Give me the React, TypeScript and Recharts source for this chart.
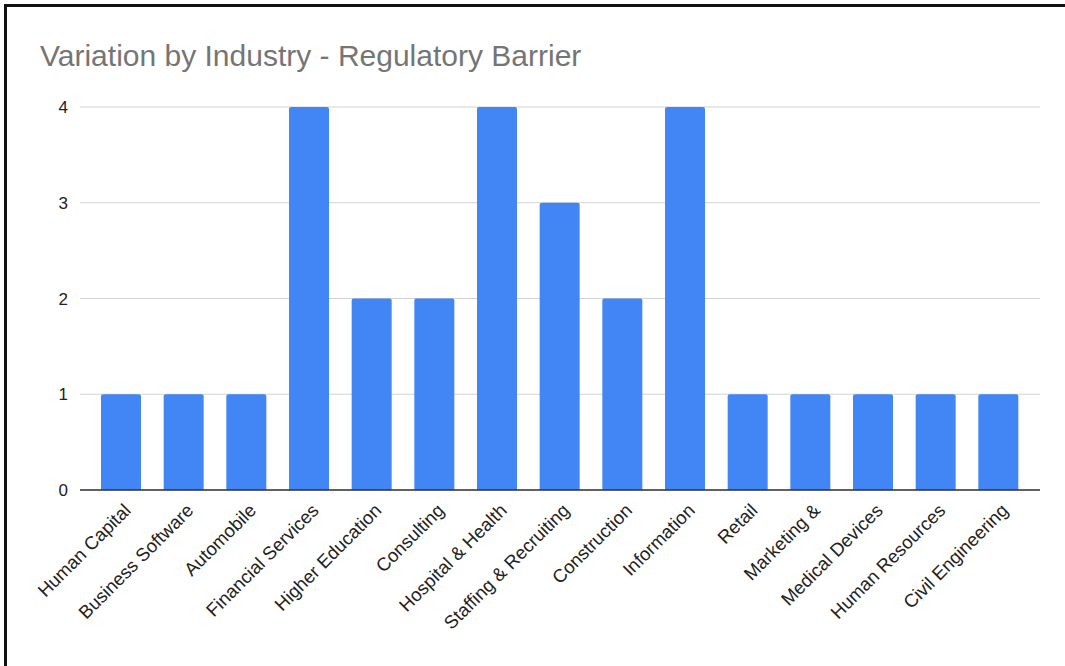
import { BarChart, Bar, XAxis, YAxis, CartesianGrid } from 'recharts';

const industries = [
  'Human Capital',
  'Business Software',
  'Automobile',
  'Financial Services',
  'Higher Education',
  'Consulting',
  'Hospital & Health',
  'Staffing & Recruiting',
  'Construction',
  'Information',
  'Retail',
  'Marketing &',
  'Medical Devices',
  'Human Resources',
  'Civil Engineering',
];

const barrierCounts = [1, 1, 1, 4, 2, 2, 4, 3, 2, 4, 1, 1, 1, 1, 1];

const yTicks = [0, 1, 2, 3, 4];

const data = industries.map((name, i) => ({ name, value: barrierCounts[i] }));

const FONT = '"Liberation Sans", Arial, sans-serif';

function AngledTick({ x, y, payload }: any) {
  return (
    <g transform={`translate(${x + 6},${y + 9})`}>
      <text
        x={0}
        y={0}
        dy="0.35em"
        textAnchor="end"
        transform="rotate(-45)"
        fill="#222222"
        fontSize={18.5}
        fontFamily={FONT}
      >
        {payload.value}
      </text>
    </g>
  );
}

export default function App() {
  return (
    <div
      style={{
        position: 'absolute',
        left: 0,
        top: 0,
        width: 1065,
        height: 666,
        background: '#ffffff',
        overflow: 'hidden',
      }}
    >
      <div
        style={{
          position: 'absolute',
          left: 4,
          top: 4,
          width: 1061,
          height: 662,
          borderTop: '3px solid #111',
          borderLeft: '3px solid #111',
        }}
      />
      <div
        style={{
          position: 'absolute',
          left: 40,
          top: 41,
          fontFamily: FONT,
          fontSize: 30,
          lineHeight: '30px',
          color: '#757575',
          whiteSpace: 'nowrap',
        }}
      >
        Variation by Industry - Regulatory Barrier
      </div>
      <div style={{ position: 'absolute', left: 0, top: 0 }}>
        <BarChart
          width={1065}
          height={666}
          data={data}
          margin={{ top: 107, right: 25, bottom: 0, left: 0 }}
        >
          <CartesianGrid vertical={false} stroke="#d2d2d2" />
          <XAxis
            dataKey="name"
            interval={0}
            height={176}
            padding={{ left: 10, right: 10 }}
            tickLine={false}
            axisLine={{ stroke: '#333333', strokeWidth: 1.5 }}
            tick={<AngledTick />}
          />
          <YAxis
            width={80}
            domain={[0, 4]}
            ticks={yTicks}
            interval={0}
            axisLine={false}
            tickLine={false}
            tickSize={0}
            tickMargin={12}
            tick={{ fill: '#222222', fontSize: 17, fontFamily: FONT }}
          />
          <Bar
            dataKey="value"
            fill="#4285f4"
            barSize={40}
            radius={[2, 2, 0, 0]}
            isAnimationActive={false}
          />
        </BarChart>
      </div>
    </div>
  );
}
